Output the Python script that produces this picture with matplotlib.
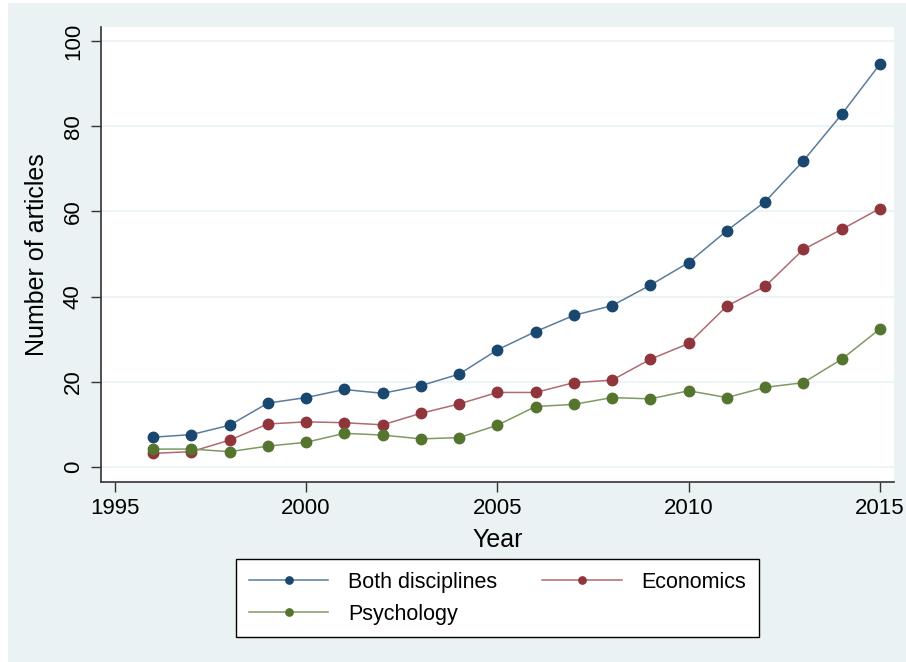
import matplotlib.pyplot as plt
from matplotlib.patches import Rectangle

years = list(range(1996, 2016))
both = [7.0, 7.6, 9.8, 15.0, 16.3, 18.2, 17.3, 19.1, 21.8, 27.5,
        31.8, 35.6, 37.9, 42.7, 48.0, 55.5, 62.3, 71.9, 82.8, 94.6]
econ = [3.2, 3.6, 6.3, 10.1, 10.6, 10.4, 9.9, 12.6, 14.8, 17.5,
        17.5, 19.8, 20.4, 25.3, 29.0, 37.8, 42.4, 51.1, 55.8, 60.7]
psych = [4.2, 4.2, 3.6, 4.9, 5.8, 7.9, 7.5, 6.6, 6.9, 9.8,
         14.2, 14.7, 16.3, 16.0, 17.9, 16.3, 18.7, 19.8, 25.3, 32.4]

names = ["Both disciplines", "Economics", "Psychology"]
colors = ["#1a476f", "#90353b", "#55752f"]
line_colors = ["#5a7c9c", "#b06b70", "#7e9a62"]

plt.rcParams["font.family"] = ["Liberation Sans", "DejaVu Sans"]

fig = plt.figure(figsize=(9.06, 6.62), dpi=100)
fig.patch.set_facecolor("white")
# light background panel (Stata style), drawn behind the axes
fig.patches.append(Rectangle((8 / 906, 0), 1, 1 - 3 / 662, transform=fig.transFigure,
                             facecolor="#eaf2f3", edgecolor="none", zorder=-10))

ax = fig.add_axes([0.1111, 0.2724, 0.8757, 0.6873])
ax.set_facecolor("white")

handles = []
for series, name, c, lc in zip([both, econ, psych], names, colors, line_colors):
    h, = ax.plot(years, series, color=lc, lw=1.1, marker="o", ms=7.5,
                 markerfacecolor=c, markeredgecolor=c, label=name, zorder=3)
    handles.append(h)

ax.set_xlim(1994.63, 2015.37)
ax.set_ylim(-3.45, 103.4)
ax.set_xticks([1995, 2000, 2005, 2010, 2015])
ax.set_yticks([0, 20, 40, 60, 80, 100])
ax.grid(axis="y", color="#eaf2f3", lw=1.2)
ax.set_axisbelow(True)

for s in ["top", "right"]:
    ax.spines[s].set_visible(False)
for s in ["left", "bottom"]:
    ax.spines[s].set_color("#333333")
    ax.spines[s].set_linewidth(1.2)

ax.tick_params(axis="both", direction="out", length=7, width=1, color="#333333",
               labelsize=16, pad=5)
for lab in ax.get_yticklabels():
    lab.set_rotation(90)
    lab.set_va("center")

ax.set_xlabel("Year", fontsize=18, labelpad=6)
ax.set_ylabel("Number of articles", fontsize=18, labelpad=10)

# row-wise order: Both, Economics / Psychology
order = [0, 2, 1]
leg = ax.legend([handles[i] for i in order], [names[i] for i in order],
                loc="upper center", bbox_to_anchor=(0.5, -0.146), ncol=2,
                fontsize=15.5, frameon=True, fancybox=False, framealpha=1,
                handlelength=3.7, columnspacing=2.1, handletextpad=0.9,
                borderpad=0.6, labelspacing=0.5, markerscale=0.7)
leg.get_frame().set_edgecolor("black")
leg.get_frame().set_linewidth(1)
leg.get_frame().set_facecolor("white")

fig.savefig("out.png", dpi=100, facecolor=fig.get_facecolor())
